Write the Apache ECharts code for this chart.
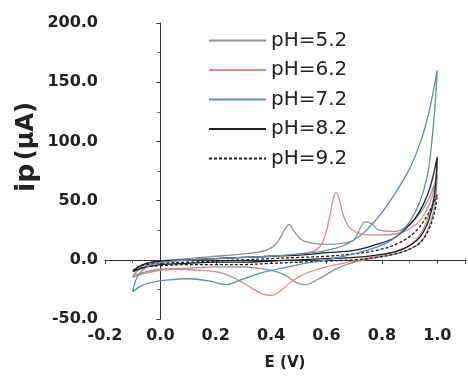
<!DOCTYPE html>
<html>
<head>
<meta charset="utf-8">
<script src="https://cdn.jsdelivr.net/npm/echarts@6/dist/echarts.min.js"></script>
<style>html,body{margin:0;padding:0;background:#fff}#c{width:468px;height:376px}</style>
</head>
<body>
<div id="c"></div>
<script>
// ---- data ----
const seriesNames = ['pH=5.2', 'pH=6.2', 'pH=7.2', 'pH=8.2', 'pH=9.2'];
const xTickLabels = ['-0.2', '0.0', '0.2', '0.4', '0.6', '0.8', '1.0'];
const yTickLabels = ['-50.0', '0.0', '50.0', '100.0', '150.0', '200.0'];

// pH 5.2 (forward scan then reverse scan)
const E_ph52 = [-0.1, -0.08, -0.05, 0.0, 0.1, 0.2, 0.3, 0.38, 0.42, 0.45, 0.465, 0.48, 0.51, 0.55, 0.6, 0.66, 0.7, 0.72, 0.74, 0.765, 0.79, 0.85, 0.9, 0.94, 0.97, 0.99, 1.0,
                0.99, 0.97, 0.94, 0.9, 0.85, 0.78, 0.7, 0.64, 0.58, 0.54, 0.52, 0.49, 0.45, 0.4, 0.3, 0.2, 0.1, 0.0, -0.05, -0.08, -0.1];
const I_ph52 = [-14, -8, -3, -1, 1, 3, 5, 8, 14, 26, 30, 25, 17, 14, 13, 14, 17, 26, 32, 30, 25, 24, 30, 40, 52, 64, 72,
                45, 28, 15, 9, 5, 2, -2, -7, -15, -20, -21, -19, -13, -9, -6, -6, -7, -8, -10, -12, -14];

// pH 6.2
const E_ph62 = [-0.1, -0.08, -0.05, 0.0, 0.1, 0.2, 0.3, 0.4, 0.5, 0.56, 0.59, 0.61, 0.625, 0.635, 0.645, 0.66, 0.68, 0.71, 0.75, 0.8, 0.85, 0.9, 0.94, 0.97, 0.99, 1.0,
                0.99, 0.97, 0.94, 0.9, 0.85, 0.8, 0.7, 0.6, 0.52, 0.47, 0.43, 0.4, 0.37, 0.33, 0.28, 0.22, 0.15, 0.05, 0.0, -0.05, -0.1];
const I_ph62 = [-15, -9, -5, -2, 0, 1, 2, 3, 5, 8, 17, 35, 52, 57, 52, 38, 28, 23, 21, 21, 22, 26, 34, 46, 62, 80,
                55, 38, 22, 12, 7, 4, -1, -6, -12, -19, -27, -30, -29, -24, -17, -11, -9, -8, -9, -11, -15];

// pH 7.2
const E_ph72 = [-0.1, -0.09, -0.07, -0.03, 0.05, 0.2, 0.4, 0.55, 0.62, 0.68, 0.74, 0.8, 0.85, 0.9, 0.94, 0.97, 1.0,
                0.99, 0.97, 0.95, 0.92, 0.88, 0.83, 0.76, 0.68, 0.6, 0.5, 0.42, 0.35, 0.29, 0.235, 0.18, 0.1, 0.03, -0.03, -0.07, -0.1];
const I_ph72 = [-27, -18, -10, -4, -1, 1, 3, 6, 9, 14, 24, 40, 57, 77, 100, 125, 160,
                125, 79, 58, 40, 26, 16, 9, 4, 0, -4, -8, -12, -17, -21, -18, -16, -17, -19, -22, -27];

// pH 8.2
const E_ph82 = [-0.1, -0.08, -0.05, 0.0, 0.1, 0.2, 0.3, 0.4, 0.5, 0.6, 0.7, 0.78, 0.84, 0.88, 0.92, 0.95, 0.975, 1.0,
                0.99, 0.97, 0.94, 0.9, 0.85, 0.78, 0.7, 0.6, 0.5, 0.4, 0.3, 0.2, 0.1, 0.0, -0.05, -0.1];
const I_ph82 = [-10, -6, -3, -1, 0, 1, 2, 3, 4, 6, 8, 13, 18, 25, 35, 47, 62, 87,
                55, 34, 20, 12, 7, 4, 2, 1, 0, -1, -2, -2, -3, -4, -6, -10];

// pH 9.2
const E_ph92 = [-0.1, -0.08, -0.05, 0.0, 0.1, 0.2, 0.3, 0.4, 0.5, 0.6, 0.7, 0.78, 0.84, 0.89, 0.93, 0.96, 0.98, 1.0,
                0.99, 0.97, 0.94, 0.9, 0.85, 0.78, 0.7, 0.6, 0.5, 0.4, 0.3, 0.2, 0.1, 0.0, -0.05, -0.1];
const I_ph92 = [-9, -6, -4, -3, -2, -1, 0, 1, 2, 3, 5, 8, 12, 18, 26, 36, 45, 55,
                40, 26, 15, 9, 5, 2, 0, -1, -2, -3, -4, -4, -4, -5, -6, -9];

// ---- build ----
const pairs = (E, I) => E.map((e, i) => [e, I[i]]);
const dataSets = [pairs(E_ph52, I_ph52), pairs(E_ph62, I_ph62), pairs(E_ph72, I_ph72), pairs(E_ph82, I_ph82), pairs(E_ph92, I_ph92)];
const colors = ['#8c9494', '#d68d8a', '#5f8cba', '#1e1e1e', '#1e1e1e'];
const dashes = ['solid', 'solid', 'solid', 'solid', [3, 2]];

const chart = echarts.init(document.getElementById('c'), null, {renderer: 'canvas'});
const labelFont = {fontFamily: 'DejaVu Sans', fontWeight: 'bold', fontSize: 16, color: '#222'};

chart.setOption({
  animation: false,
  backgroundColor: '#fff',
  grid: {left: 105, right: 0, top: 23, bottom: 56, containLabel: false},
  legend: {
    orient: 'vertical', left: 203, top: 25.5,
    itemWidth: 57, itemHeight: 20, itemGap: 9.5,
    textStyle: {fontFamily: 'DejaVu Sans', fontSize: 20, color: '#222'},
    lineStyle: {width: 2},
    itemStyle: {opacity: 0, borderWidth: 0},
    data: seriesNames
  },
  xAxis: {
    type: 'value', min: -0.2, max: 1.1, interval: 0.2,
    axisLine: {lineStyle: {color: '#333', width: 1}},
    axisTick: {show: true, length: 4, lineStyle: {color: '#333'}},
    minorTick: {show: true, splitNumber: 2, length: 3, lineStyle: {color: '#555'}},
    splitLine: {show: false},
    axisLabel: Object.assign({margin: 9, formatter: v => {
      const s = xTickLabels.find(t => Math.abs(parseFloat(t) - v) < 1e-6); return s || '';
    }}, labelFont),
    name: 'E (V)', nameLocation: 'middle', nameGap: 37,
    nameTextStyle: {fontFamily: 'DejaVu Sans', fontWeight: 'bold', fontSize: 15, color: '#222'}
  },
  yAxis: {
    type: 'value', min: -50, max: 200, interval: 50,
    axisLine: {show: true, lineStyle: {color: '#333', width: 1}},
    axisTick: {show: true, length: 4, lineStyle: {color: '#333'}},
    minorTick: {show: true, splitNumber: 2, length: 3, lineStyle: {color: '#555'}},
    splitLine: {show: false},
    axisLabel: Object.assign({margin: 7, formatter: v => {
      const s = yTickLabels.find(t => Math.abs(parseFloat(t) - v) < 1e-6); return s || '';
    }}, labelFont)
  },
  graphic: [{
    type: 'text', x: 27, y: 147, rotation: Math.PI / 2,
    style: {
      text: '{a|ip} {b|(μA)}', align: 'center', verticalAlign: 'middle',
      rich: {
        a: {fontFamily: 'DejaVu Sans', fontWeight: 'bold', fontSize: 27, fill: '#222'},
        b: {fontFamily: 'DejaVu Sans', fontWeight: 'bold', fontSize: 24, fill: '#222'}
      }
    }
  }],
  series: seriesNames.map((n, k) => ({
    name: n, type: 'line', data: dataSets[k], showSymbol: false, symbol: 'none',
    smooth: 0.35, smoothMonotone: null,
    lineStyle: {color: colors[k], width: 1.3, type: dashes[k]},
    itemStyle: {color: colors[k]},
    z: k === 2 ? 3 : 2
  }))
});
</script>
</body>
</html>
